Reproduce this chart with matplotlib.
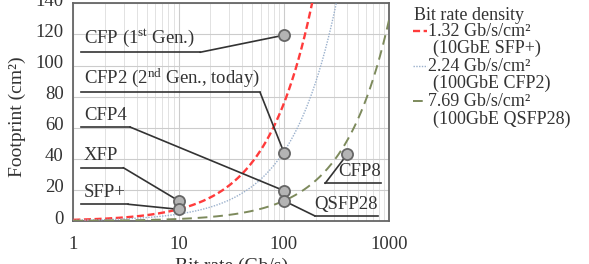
import numpy as np
import matplotlib
matplotlib.use("Agg")
import matplotlib.pyplot as plt
from matplotlib.lines import Line2D
import matplotlib.transforms as mtransforms

plt.rcParams['font.family'] = ['Liberation Serif', 'DejaVu Serif']
plt.rcParams['mathtext.fontset'] = 'custom'
plt.rcParams['mathtext.rm'] = 'Liberation Serif'
plt.rcParams['mathtext.it'] = 'Liberation Serif:italic'

# ---- data ----
densities = [1.32, 2.24, 7.69]            # Gb/s/cm^2
density_refs = ["(10GbE SFP+)", "(100GbE CFP2)", "(100GbE QSFP28)"]
modules = ["CFP (1$^{\\rm st}$ Gen.)", "CFP2 (2$^{\\rm nd}$ Gen., today)", "CFP4",
           "XFP", "SFP+", "QSFP28", "CFP8"]
bit_rates = [100, 100, 100, 10, 10, 100, 400]        # Gb/s
footprints = [119.5, 44, 19.5, 13, 7.5, 13, 43]      # cm^2
x_ticks = [1, 10, 100, 1000]
y_ticks = [0, 20, 40, 60, 80, 100, 120, 140]

# ---- layout / style ----
W, H = 589, 264
fig = plt.figure(figsize=(W / 100, H / 100), dpi=100)
ax = fig.add_axes([73.3 / W, 1 - 221 / H, 316 / W, 217.7 / H])
ax.set_xscale('log')
ax.set_xlim(1, 1000)
ax.set_ylim(0, 140)

styles = [dict(color='#ff3b3b', ls=(0, (3, 1.5)), lw=1.7),
          dict(color='#9ab0cc', ls=(0, (1, 1)), lw=1.0),
          dict(color='#7d8a5c', ls=(0, (5, 3)), lw=1.4)]
xs = np.logspace(0, 3, 400)
for d, st in zip(densities, styles):
    ax.plot(xs, xs / d, zorder=3, **st)

ax.set_xticks(x_ticks)
ax.set_xticklabels([str(t) for t in x_ticks])
ax.set_yticks(y_ticks)
ax.grid(True, which='major', color='#cccccc', lw=0.8)
ax.grid(True, which='minor', axis='x', color='#dddddd', lw=0.6)
ax.tick_params(which='both', length=0, labelsize=13.5, colors='#333333')
ax.tick_params(axis='x', pad=11)
ax.tick_params(axis='y', pad=7)
off = mtransforms.ScaledTranslation(0, 4 / 100, fig.dpi_scale_trans)
for lab in ax.get_yticklabels():
    lab.set_transform(lab.get_transform() + off)
for sp in ax.spines.values():
    sp.set_color('#666666')
    sp.set_linewidth(1.3)

ax.set_xlabel("Bit rate (Gb/s)", fontsize=14, color='#333333')
ax.set_ylabel("Footprint (cm²)", fontsize=14, color='#333333')
ax.xaxis.set_label_coords(0.5, -0.17)
ax.yaxis.set_label_coords(-0.150, 0.478)

# annotation layout: (x0, x1, y) underline in axes fraction, side of leader
ann_layout = [(0.024, 0.401, 0.775, 'right'),
              (0.024, 0.591, 0.591, 'right'),
              (0.024, 0.179, 0.432, 'right'),
              (0.024, 0.158, 0.245, 'right'),
              (0.024, 0.173, 0.077, 'right'),
              (0.765, 0.964, 0.023, 'left'),
              (0.797, 0.974, 0.173, 'left')]
lc = '#333333'
for name, br, fp, (x0, x1, y, side) in zip(modules, bit_rates, footprints, ann_layout):
    ax.plot([x0, x1], [y, y], transform=ax.transAxes, color=lc, lw=1.2, zorder=4)
    xc = x1 if side == 'right' else x0
    ax.annotate("", xy=(br, fp), xycoords='data', xytext=(xc, y), textcoords='axes fraction',
                arrowprops=dict(arrowstyle='-', color=lc, lw=1.2, shrinkA=0, shrinkB=0), zorder=4)
    if side == 'right':
        ax.text(x0 + 0.01, y + 0.015, name, transform=ax.transAxes, ha='left', va='bottom',
                fontsize=13.5, color='#333333', zorder=5)
    else:
        ax.text(x1, y + 0.015, name, transform=ax.transAxes, ha='right', va='bottom',
                fontsize=13.5, color='#333333', zorder=5)
ax.plot(bit_rates, footprints, 'o', ms=8, mfc='#b4b4b4', mec='#666666', mew=1.3, zorder=6, ls='none')

# legend (manual)
fs = 13.0
fig.text(414 / W, 1 - 15.5 / H, "Bit rate density", fontsize=fs, va='center', ha='left', color='#333333')
y0 = 31.0
for i, (d, ref, st) in enumerate(zip(densities, density_refs, styles)):
    yy = y0 + i * 35.2
    fig.add_artist(Line2D([413 / W, 427 / W], [1 - yy / H] * 2, transform=fig.transFigure,
                          color=st['color'], ls=st['ls'], lw=st['lw']))
    fig.text(428 / W, 1 - yy / H, f"{d:.2f} Gb/s/cm²", fontsize=fs, va='center', ha='left', color='#333333')
    fig.text(433 / W, 1 - (yy + 17.6) / H, ref, fontsize=fs, va='center', ha='left', color='#333333')

fig.savefig("out.png", dpi=100)
